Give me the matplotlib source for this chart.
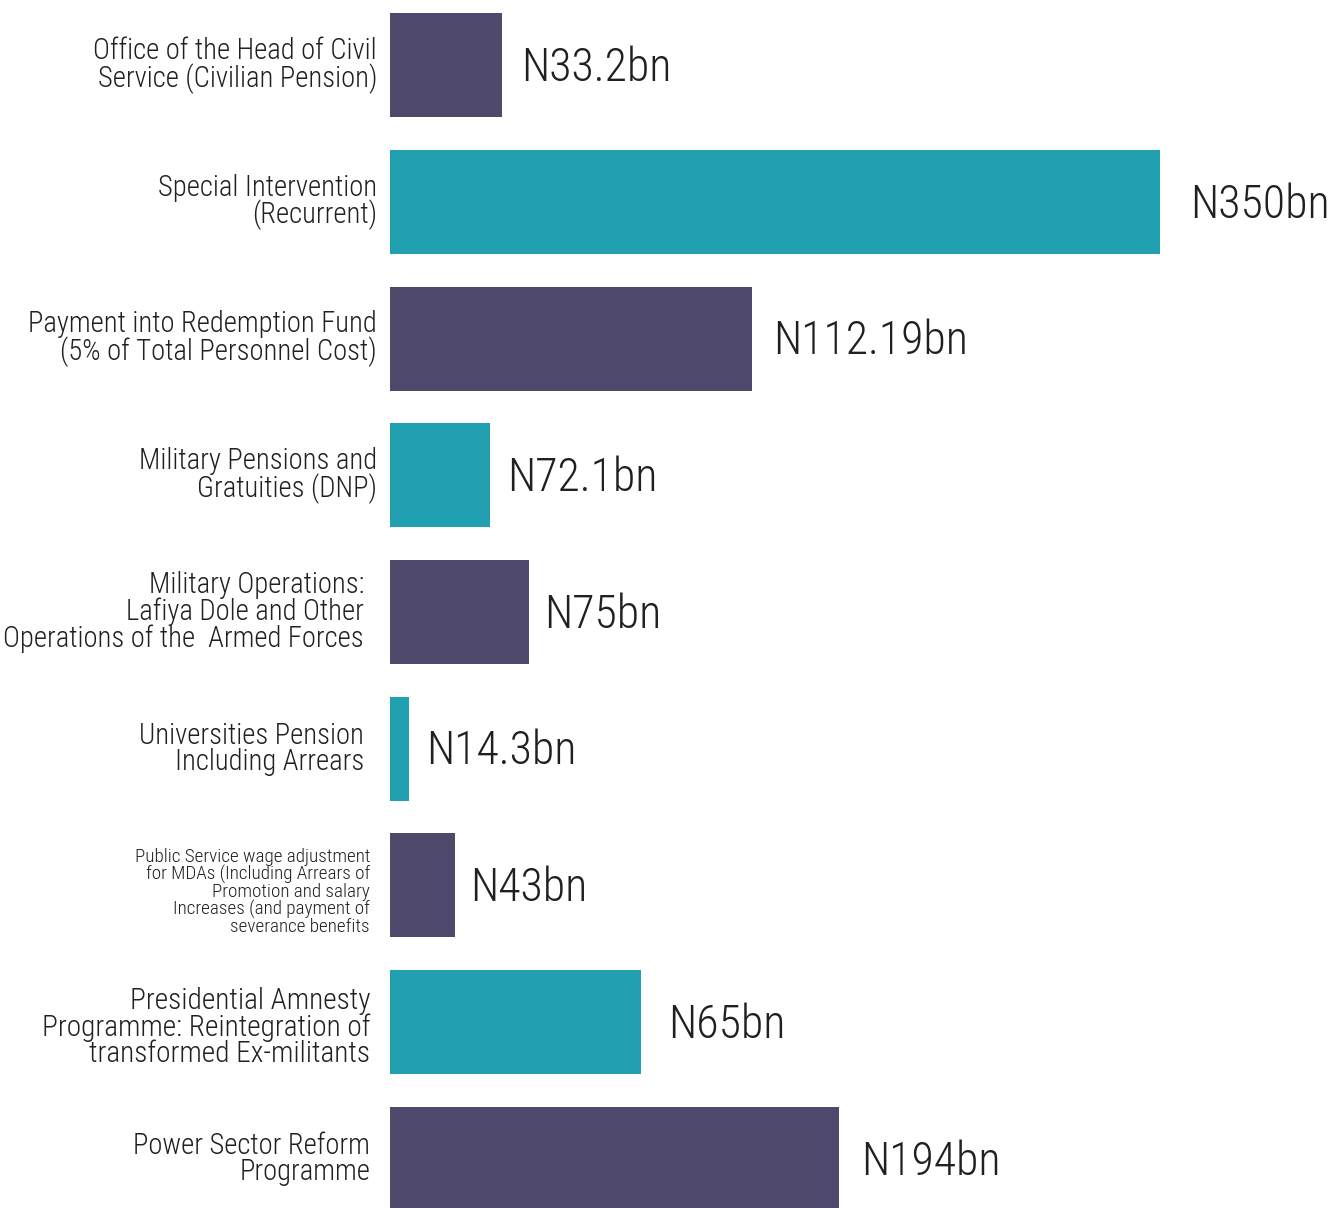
import matplotlib
matplotlib.use('Agg')
import matplotlib.pyplot as plt
import numpy as np

plt.rcParams['font.family'] = ['Roboto Condensed', 'Liberation Sans Narrow', 'DejaVu Sans']
plt.rcParams['font.stretch'] = 'condensed'
plt.rcParams['font.weight'] = 'light'

# data (bar lengths as drawn, labels as printed)
categories = [
    'Office of the Head of Civil\nService (Civilian Pension)',
    'Special Intervention\n(Recurrent)',
    'Payment into Redemption Fund\n(5% of Total Personnel Cost)',
    'Military Pensions and\nGratuities (DNP)',
    'Military Operations:\nLafiya Dole and Other\nOperations of the  Armed Forces',
    'Universities Pension\nIncluding Arrears',
    'Public Service wage adjustment\nfor MDAs (Including Arrears of\nPromotion and salary\nIncreases (and payment of\nseverance benefits',
    'Presidential Amnesty\nProgramme: Reintegration of\ntransformed Ex-militants',
    'Power Sector Reform\nProgramme',
]
bar_length = [112, 770, 362, 100, 139, 19, 65, 251, 449]
value_labels = ['N33.2bn', 'N350bn', 'N112.19bn', 'N72.1bn', 'N75bn',
                'N14.3bn', 'N43bn', 'N65bn', 'N194bn']

purple = '#4f4a6b'
teal = '#21a0b2'
txt = '#231f20'
colors = [purple if i % 2 == 0 else teal for i in range(len(categories))]

# layout
label_pad = [13, 13, 13, 13, 26, 26, 20, 20, 20]
label_size = [20.6, 20.6, 20.6, 20.6, 20.6, 20.6, 13.8, 21.2, 20.6]
label_dy = [0, 0, 0, 0, 0, 0, 0.05, 0.04, 0]
value_pad = [19, 30, 21, 17, 15, 17, 15, 27, 22]

fig = plt.figure(figsize=(13.32, 12.08), dpi=100)
ax = fig.add_axes([390 / 1332, 0, 942 / 1332, 1])
y = np.arange(len(categories))
ax.barh(y, bar_length, height=0.76, color=colors)
ax.set_xlim(0, 942)
ax.set_ylim(8.36, -0.478)
ax.axis('off')

for i in range(len(categories)):
    ax.text(-label_pad[i], y[i] + label_dy[i], categories[i], ha='right', va='center',
            fontsize=label_size[i], color=txt, linespacing=0.93, clip_on=False)
    ax.text(bar_length[i] + value_pad[i], y[i] + 0.02, value_labels[i],
            ha='left', va='center', fontsize=33, color=txt, clip_on=False)

fig.savefig('out.png', dpi=100)
